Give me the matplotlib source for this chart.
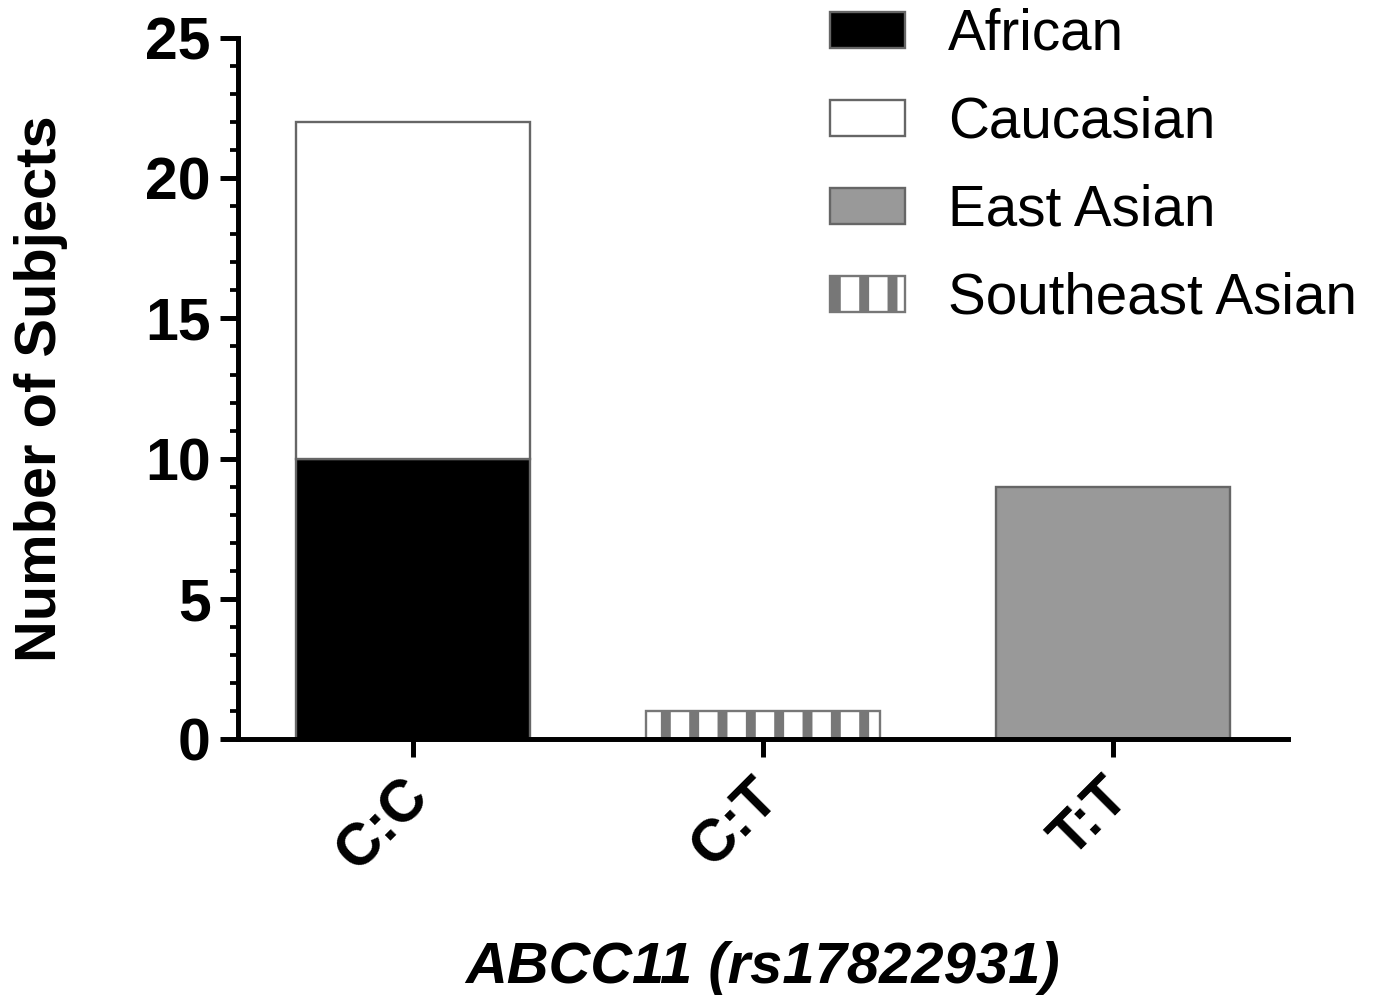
import matplotlib.pyplot as plt
from matplotlib.ticker import MultipleLocator
from matplotlib.transforms import ScaledTranslation

genotypes = ['C:C', 'C:T', 'T:T']
african = [10, 0, 0]
caucasian = [12, 0, 0]
east_asian = [0, 0, 9]
southeast_asian = [0, 1, 0]

plt.rcParams['font.family'] = ['Liberation Sans', 'DejaVu Sans']
plt.rcParams['hatch.linewidth'] = 4.2

dpi = 170
fig = plt.figure(figsize=(1378 / dpi, 1002 / dpi), dpi=dpi)
ax = fig.add_axes([0.1727, 0.2625, 0.762, 0.6995])

x = range(len(genotypes))
w = 0.667
edge = '#666666'
ax.bar(x, african, w, color='black', edgecolor=edge, linewidth=1, label='African')
ax.bar(x, caucasian, w, bottom=african, color='white', edgecolor=edge, linewidth=1, label='Caucasian')
ax.bar(x, east_asian, w, color='#999999', edgecolor=edge, linewidth=1, label='East Asian')
ax.bar(x, southeast_asian, w, color='white', edgecolor='#777777', hatch='|', linewidth=1, label='Southeast Asian')

ax.set_xlim(-0.5, 2.5)
ax.set_ylim(0, 25)
ax.yaxis.set_major_locator(MultipleLocator(5))
ax.yaxis.set_minor_locator(MultipleLocator(1))
ax.spines['top'].set_visible(False)
ax.spines['right'].set_visible(False)
for s in ['left', 'bottom']:
    ax.spines[s].set_linewidth(2.1)
ax.tick_params(axis='both', which='major', length=7.6, width=2.1, labelsize=25, pad=4)
ax.tick_params(axis='x', pad=5)
ax.tick_params(axis='y', which='minor', length=3.4, width=1.6)
ax.set_xticks(list(x))
ax.set_xticklabels(genotypes, rotation=45, ha='right', rotation_mode='anchor', fontweight='bold')
# nudge rotated labels a little to the left
shift = ScaledTranslation(-12 / dpi, 0, fig.dpi_scale_trans)
for t in ax.get_xticklabels():
    t.set_transform(t.get_transform() + shift)
for t in ax.get_yticklabels():
    t.set_fontweight('bold')

ax.set_ylabel('Number of Subjects', fontsize=24.5, fontweight='bold')
ax.yaxis.set_label_coords(-0.162, 0.5)
fig.text(0.553, 0.034, 'ABCC11 (rs17822931)', fontsize=24.5, fontweight='bold',
         fontstyle='italic', ha='center', va='center')

ax.legend(loc='upper left', bbox_to_anchor=(830 / 1378, 1 - 8 / 1002),
          bbox_transform=fig.transFigure, frameon=False, fontsize=24,
          borderpad=0, borderaxespad=0, handlelength=1.32, handleheight=0.62,
          labelspacing=0.6, handletextpad=0.76)

fig.savefig('out.png', dpi=dpi)
